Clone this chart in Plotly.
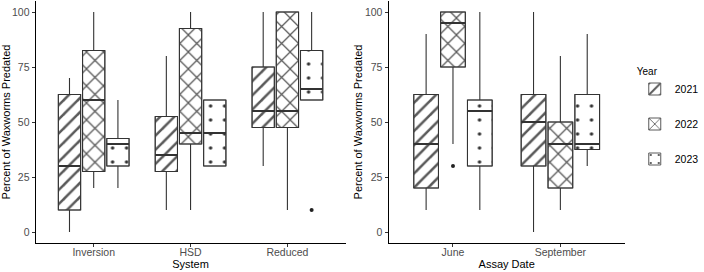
import plotly.graph_objects as go

years = ["2021", "2022", "2023"]

# Panel 1: by System
systems = ["Inversion", "HSD", "Reduced"]
sys_low = {"2021": [0, 10, 30], "2022": [20, 10, 10], "2023": [20, 30, 60]}
sys_q1 = {"2021": [10, 27.5, 47.5], "2022": [27.5, 40, 47.5], "2023": [30, 30, 60]}
sys_med = {"2021": [30, 35, 55], "2022": [60, 45, 55], "2023": [40, 45, 65]}
sys_q3 = {"2021": [62.5, 52.5, 75], "2022": [82.5, 92.5, 100], "2023": [42.5, 60, 82.5]}
sys_high = {"2021": [70, 80, 100], "2022": [100, 100, 100], "2023": [60, 60, 100]}
sys_out = {"2021": [[], [], []], "2022": [[], [], []], "2023": [[], [], [10]]}

# Panel 2: by Assay Date
dates = ["June", "September"]
date_low = {"2021": [10, 0], "2022": [40, 10], "2023": [10, 30]}
date_q1 = {"2021": [20, 30], "2022": [75, 20], "2023": [30, 37.5]}
date_med = {"2021": [40, 50], "2022": [95, 40], "2023": [55, 40]}
date_q3 = {"2021": [62.5, 62.5], "2022": [100, 50], "2023": [60, 62.5]}
date_high = {"2021": [90, 100], "2022": [100, 80], "2023": [100, 90]}
date_out = {"2021": [[], []], "2022": [[30], []], "2023": [[], []]}

patterns = {
    "2021": dict(shape="/", fgcolor="#5a5a5a", bgcolor="white", size=10, solidity=0.25, fgopacity=1),
    "2022": dict(shape="x", fgcolor="#5a5a5a", bgcolor="white", size=12, solidity=0.2, fgopacity=1),
    "2023": dict(shape=".", fgcolor="#333333", bgcolor="white", size=14, solidity=0.05, fgopacity=1),
}

DODGE = 0.25
BOXW = 0.23

fig = go.Figure()


def add_panel(cats, low, q1, med, q3, high, outs, xa, ya, showlegend):
    for j, yr in enumerate(years):
        off = (j - (len(years) - 1) / 2) * DODGE
        xs = [i + off for i in range(len(cats))]
        fig.add_trace(go.Bar(
            x=xs, base=q1[yr], y=[b - a for a, b in zip(q1[yr], q3[yr])],
            width=BOXW, name=yr, legendgroup=yr, showlegend=showlegend,
            marker=dict(color="white", opacity=1, pattern=patterns[yr],
                        line=dict(color="#5a5a5a", width=1)),
            xaxis=xa, yaxis=ya, hoverinfo="skip",
        ))
        for i in range(len(cats)):
            fig.add_trace(go.Box(
                x=[xs[i]], q1=[q1[yr][i]], median=[med[yr][i]], q3=[q3[yr][i]],
                lowerfence=[low[yr][i]], upperfence=[high[yr][i]],
                width=BOXW, whiskerwidth=0, fillcolor="rgba(0,0,0,0)",
                line=dict(color="#333333", width=1.1), boxpoints=False,
                showlegend=False, legendgroup=yr, xaxis=xa, yaxis=ya,
            ))
            # thicker median
            fig.add_trace(go.Scatter(
                x=[xs[i] - BOXW / 2, xs[i] + BOXW / 2], y=[med[yr][i], med[yr][i]],
                mode="lines", line=dict(color="#333333", width=2),
                showlegend=False, xaxis=xa, yaxis=ya, hoverinfo="skip",
            ))
            if outs[yr][i]:
                fig.add_trace(go.Scatter(
                    x=[xs[i]] * len(outs[yr][i]), y=outs[yr][i], mode="markers",
                    marker=dict(color="#222222", size=4),
                    showlegend=False, xaxis=xa, yaxis=ya,
                ))


add_panel(systems, sys_low, sys_q1, sys_med, sys_q3, sys_high, sys_out, "x", "y", True)
add_panel(dates, date_low, date_q1, date_med, date_q3, date_high, date_out, "x2", "y2", False)

axis_common = dict(
    showline=True, linecolor="black", linewidth=1, showgrid=False, zeroline=False,
    ticks="outside", ticklen=3, tickcolor="#333333", tickwidth=1,
    tickfont=dict(family="Liberation Sans, Arial", size=10.5, color="#4d4d4d"),
)
title_font = dict(family="Liberation Sans, Arial", size=11, color="black")

fig.update_layout(
    width=704, height=272,
    margin=dict(l=0, r=0, t=1, b=29),
    paper_bgcolor="white", plot_bgcolor="white",
    barmode="overlay",
    xaxis=dict(domain=[36 / 704, 349.5 / 704], range=[-0.6, len(systems) - 0.4],
               tickvals=list(range(len(systems))), ticktext=systems,
               ticklabelstandoff=-4,
               title=dict(text="System", font=title_font, standoff=0), **axis_common),
    yaxis=dict(range=[-5, 105], tickvals=[0, 25, 50, 75, 100],
               title=dict(text="Percent of Waxworms Predated", font=title_font, standoff=1),
               **axis_common),
    xaxis2=dict(domain=[393 / 704, 632 / 704], range=[-0.6, len(dates) - 0.4],
                tickvals=list(range(len(dates))), ticktext=dates, anchor="y2",
                ticklabelstandoff=-4,
                title=dict(text="Assay Date", font=title_font, standoff=0), **axis_common),
    yaxis2=dict(range=[-5, 105], tickvals=[0, 25, 50, 75, 100], anchor="x2",
                title=dict(text="Percent of Waxworms Predated", font=title_font, standoff=0),
                **axis_common),
    legend=dict(
        title=dict(text="Year", font=dict(family="Liberation Sans, Arial", size=10, color="black")),
        font=dict(family="Liberation Sans, Arial", size=10.5, color="black"),
        x=0.912, xanchor="left", y=0.75, yanchor="top",
        tracegroupgap=16, bgcolor="rgba(0,0,0,0)",
    ),
    showlegend=True,
)

fig.write_html("out.html")
